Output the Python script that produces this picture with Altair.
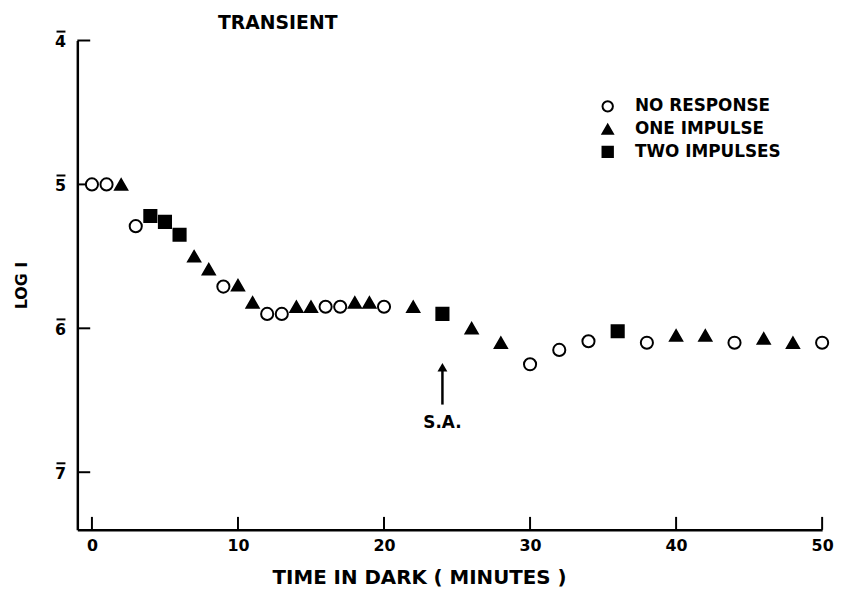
import altair as alt
import pandas as pd

# Data
x_none = [0, 1, 3, 9, 12, 13, 16, 17, 20, 30, 32, 34, 38, 44, 50]
y_none = [5.0, 5.0, 5.29, 5.71, 5.90, 5.90, 5.85, 5.85, 5.85, 6.25, 6.15, 6.09, 6.10, 6.10, 6.10]
x_one = [2, 7, 8, 10, 11, 14, 15, 18, 19, 22, 26, 28, 40, 42, 46, 48]
y_one = [5.0, 5.50, 5.59, 5.70, 5.82, 5.85, 5.85, 5.82, 5.82, 5.85, 6.0, 6.10, 6.05, 6.05, 6.07, 6.10]
x_two = [4, 5, 6, 24, 36]
y_two = [5.22, 5.26, 5.35, 5.90, 6.02]

categories = ["NO RESPONSE", "ONE IMPULSE", "TWO IMPULSES"]
x_ticks = [0, 10, 20, 30, 40, 50]
y_ticks = [4, 5, 6, 7]
y_tick_labels = ["4", "5", "6", "7"]

# annotation
sa_x = [24]
sa_arrow_top = [6.27]
sa_arrow_bottom = [6.53]
sa_label_y = [6.66]

FONT = "DejaVu Sans"

rows = []
for xs, ys, c in [(x_none, y_none, categories[0]), (x_one, y_one, categories[1]), (x_two, y_two, categories[2])]:
    for a, b in zip(xs, ys):
        rows.append({"t": a, "logi": b, "resp": c})
df = pd.DataFrame(rows)

W, H = 752, 494
xscale = alt.Scale(domain=[-1, 50], nice=False, zero=False)
yscale = alt.Scale(domain=[4, 7.4], reverse=True, nice=False, zero=False)

leg = dict(title=None, orient="none", legendX=527, legendY=58, padding=0,
           labelFont=FONT, labelFontSize=17, labelFontWeight="bold",
           labelColor="black", symbolSize=110, symbolStrokeWidth=2,
           rowPadding=4, labelOffset=19)

points = alt.Chart(df).mark_point(filled=True, strokeWidth=2, size=150, opacity=1).encode(
    x=alt.X("t:Q", scale=xscale, axis=alt.Axis(
        values=x_ticks, ticks=False, domain=True, domainColor="black", domainWidth=2.5,
        grid=False, labelFont=FONT, labelFontSize=16, labelFontWeight="bold", labelColor="black",
        labelPadding=8, labelFlush=False, title="TIME IN DARK ( MINUTES )", titleFont=FONT, titleFontSize=20,
        titleFontWeight="bold", titleColor="black", titleX=345, titleY=48, titleBaseline="middle")),
    y=alt.Y("logi:Q", scale=yscale, axis=alt.Axis(
        values=y_ticks, ticks=False, labels=False, domain=True, domainColor="black", domainWidth=2.5,
        grid=False, title="LOG I", titleFont=FONT, titleFontSize=16,
        titleFontWeight="bold", titleColor="black", titleX=-56, titleY=247, titleAngle=270,
        titleBaseline="middle", titleAlign="center")),
    shape=alt.Shape("resp:N", scale=alt.Scale(domain=categories, range=["circle", "triangle-up", "square"]),
                    legend=alt.Legend(**leg)),
    fill=alt.Fill("resp:N", scale=alt.Scale(domain=categories, range=["white", "black", "black"]),
                  legend=alt.Legend(**leg)),
    stroke=alt.Stroke("resp:N", scale=alt.Scale(domain=categories, range=["black", "black", "black"]),
                      legend=alt.Legend(**leg)),
)

xt = pd.DataFrame({"t": x_ticks})
xtick_rules = alt.Chart(xt).mark_rule(color="black", strokeWidth=2).encode(
    x=alt.X("t:Q", scale=xscale), y=alt.value(H), y2=alt.value(H - 13))

yt = pd.DataFrame({"v": y_ticks, "lab": y_tick_labels})
ytick_rules = alt.Chart(yt).mark_rule(color="black", strokeWidth=2).encode(
    y=alt.Y("v:Q", scale=yscale), x=alt.value(0), x2=alt.value(13))
ytick_labels = alt.Chart(yt).mark_text(font=FONT, fontSize=16, fontWeight="bold", color="black",
                                       align="center", baseline="middle", dy=2).encode(
    y=alt.Y("v:Q", scale=yscale), x=alt.value(-17), text="lab:N")
ytick_bars = alt.Chart(yt).mark_rule(color="black", strokeWidth=2, yOffset=-9).encode(
    y=alt.Y("v:Q", scale=yscale), x=alt.value(-21), x2=alt.value(-12))

sa = pd.DataFrame({"t": sa_x, "top": sa_arrow_top, "bot": sa_arrow_bottom, "ly": sa_label_y})
arrow_shaft = alt.Chart(sa).mark_rule(color="black", strokeWidth=2.5).encode(
    x=alt.X("t:Q", scale=xscale), y=alt.Y("top:Q", scale=yscale), y2="bot:Q")
arrow_head = alt.Chart(sa).mark_point(shape="triangle-up", filled=True, color="black", size=100, opacity=1).encode(
    x=alt.X("t:Q", scale=xscale), y=alt.Y("top:Q", scale=yscale))
sa_text = alt.Chart(sa).mark_text(text="S.A.", font=FONT, fontSize=17, fontWeight="bold", color="black").encode(
    x=alt.X("t:Q", scale=xscale), y=alt.Y("ly:Q", scale=yscale))

title_text = alt.Chart(pd.DataFrame({"a": [0]})).mark_text(
    text="TRANSIENT", font=FONT, fontSize=19, fontWeight="bold", color="black", align="left",
    baseline="middle").encode(x=alt.value(142), y=alt.value(-18))

chart = alt.layer(xtick_rules, ytick_rules, ytick_labels, ytick_bars, arrow_shaft, arrow_head, sa_text,
                  title_text, points).properties(
    width=W, height=H,
    autosize=alt.AutoSizeParams(type="none"),
    padding={"left": 70, "top": 30, "right": 14, "bottom": 60},
    background="white",
).configure_view(stroke=None)

chart.save("out.html", embed_options={"renderer": "svg", "actions": False})
